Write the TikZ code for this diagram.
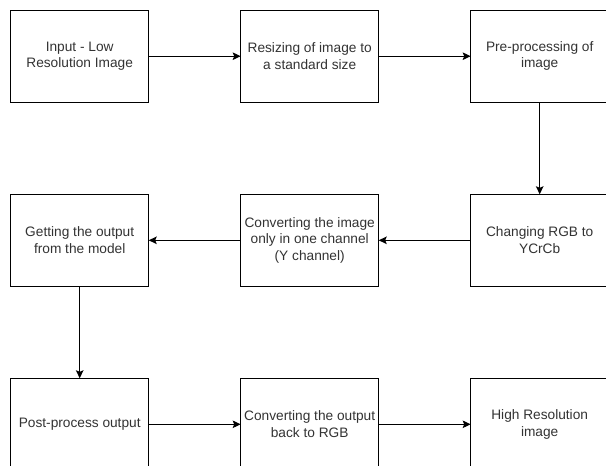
\documentclass[tikz,border=0pt]{standalone}
\usepackage{fontspec}
\setmainfont{Liberation Sans}
\usetikzlibrary{arrows.meta}
\begin{document}
\begin{tikzpicture}[x=1pt,y=-1pt,
  box/.style={draw=black, line width=1.1pt, fill=white, minimum width=138pt, minimum height=92pt,
    inner sep=2pt, outer sep=0pt, align=center, text=black!80,
    font=\fontsize{13.7pt}{16.5pt}\selectfont},
  conn/.style={draw=black, line width=1.1pt, -{Stealth[length=8pt,width=7.5pt,inset=1.5pt]}}]
\useasboundingbox (0,0) rectangle (606,466);
\clip (0,0) rectangle (606,466);
\fill[white] (0,0) rectangle (606,466);
\node[box] (b1) at (79.7,56.2) {Input - Low\\Resolution Image};
\node[box] (b2) at (309.7,56.2) {Resizing of image to\\a standard size};
\node[box] (b3) at (539.7,56.2) {Pre-processing of\\image};
\node[box] (b6) at (539.7,240.3) {Changing RGB to\\YCrCb};
\node[box] (b5) at (309.7,240.3) {Converting the image\\only in one channel\\(Y channel)};
\node[box] (b4) at (79.7,240.3) {Getting the output\\from the model};
\node[box] (b7) at (79.7,424.3) {Post-process output};
\node[box] (b8) at (309.7,424.3) {Converting the output\\back to RGB};
\node[box] (b9) at (539.7,424.3) {High Resolution\\image};
\draw[conn] (b1) -- (b2);
\draw[conn] (b2) -- (b3);
\draw[conn] (b3) -- (b6);
\draw[conn] (b6) -- (b5);
\draw[conn] (b5) -- (b4);
\draw[conn] (b4) -- (b7);
\draw[conn] (b7) -- (b8);
\draw[conn] (b8) -- (b9);
\end{tikzpicture}
\end{document}
